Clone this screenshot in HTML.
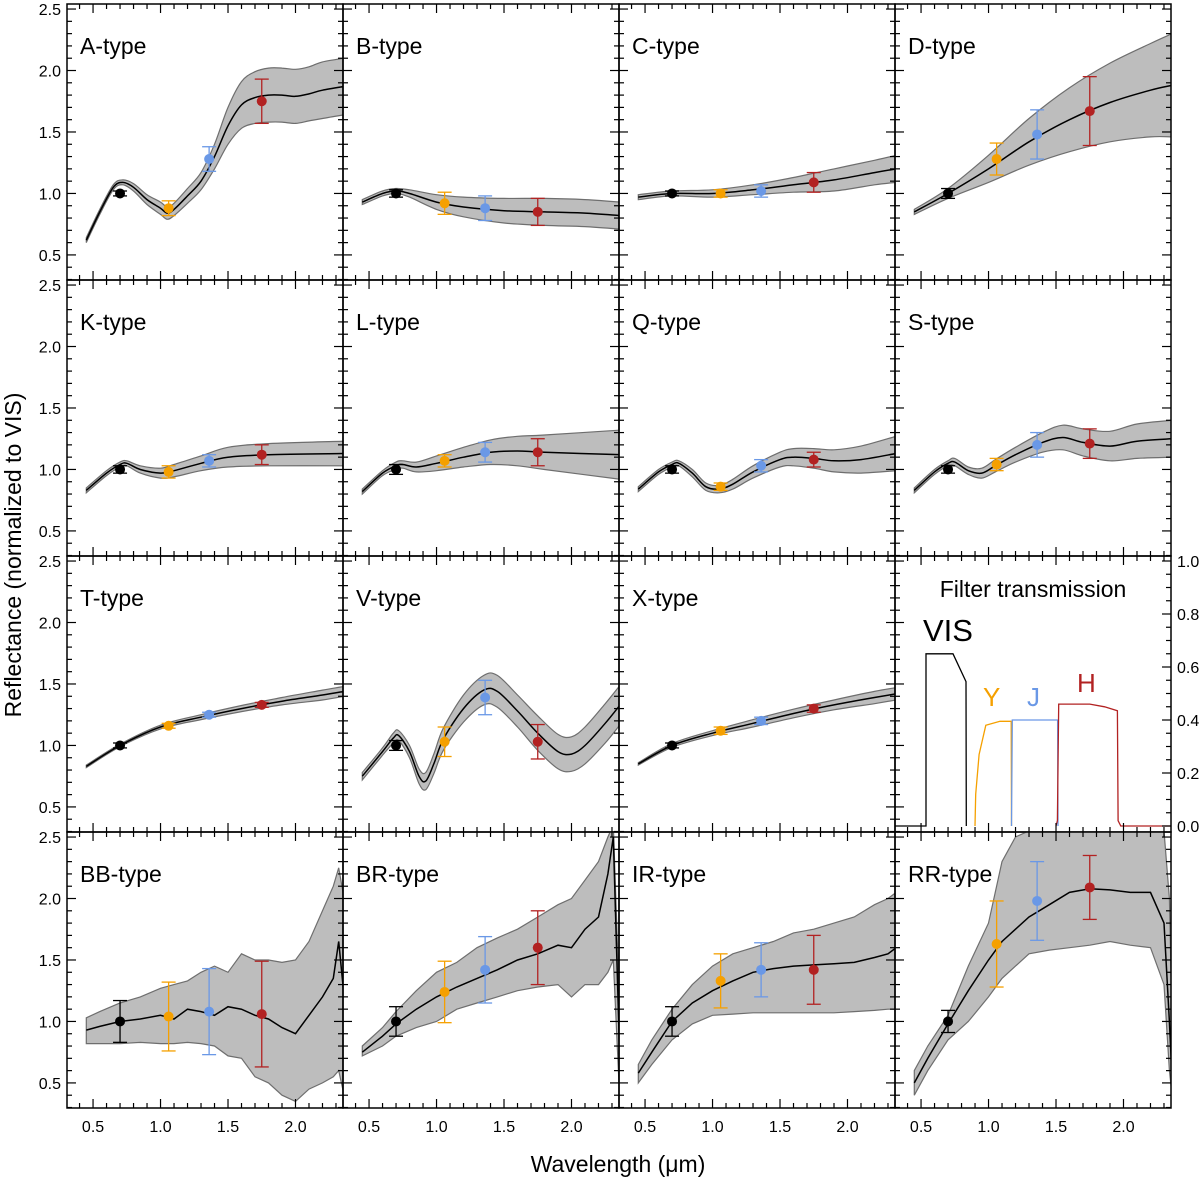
<!DOCTYPE html>
<html><head><meta charset="utf-8"><style>
body{margin:0;background:#fff;overflow:hidden;}
svg{display:block;font-family:"Liberation Sans",Arial,sans-serif;}
</style></head><body>
<svg id="chart" width="1200" height="1182" viewBox="0 0 1200 1182" xmlns="http://www.w3.org/2000/svg">
<text x="618" y="1172" font-size="23" text-anchor="middle">Wavelength (μm)</text>
<text transform="translate(21,555) rotate(-90)" font-size="23" text-anchor="middle">Reflectance (normalized to VIS)</text>
</svg>
<script>
const panelNames=["A-type","B-type","C-type","D-type","K-type","L-type","Q-type","S-type","T-type","V-type","X-type","Filter transmission","BB-type","BR-type","IR-type","RR-type"];
const filterWl=[0.70,1.06,1.36,1.75];
const filterColors=["#000000","#F5A000","#6A98E6","#B22222"];
// spectra: [wavelength, mean, halfwidth]
const specA=[[0.45,0.62,0.02],[0.55,0.85,0.02],[0.65,1.05,0.02],[0.72,1.09,0.02],[0.8,1.05,0.03],[0.9,0.95,0.04],[1.0,0.88,0.05],[1.05,0.84,0.05],[1.1,0.87,0.05],[1.2,0.98,0.06],[1.3,1.1,0.07],[1.4,1.3,0.1],[1.5,1.55,0.15],[1.6,1.72,0.19],[1.7,1.78,0.21],[1.8,1.8,0.22],[1.9,1.8,0.22],[2.0,1.79,0.22],[2.1,1.81,0.22],[2.2,1.84,0.23],[2.36,1.87,0.23]];
const specB=[[0.45,0.93,0.02],[0.6,1.0,0.02],[0.7,1.02,0.02],[0.8,1.0,0.03],[1.0,0.93,0.06],[1.2,0.89,0.08],[1.5,0.86,0.1],[1.8,0.85,0.11],[2.1,0.84,0.11],[2.36,0.82,0.11]];
const specC=[[0.45,0.97,0.02],[0.7,1.0,0.02],[1.0,1.0,0.03],[1.3,1.03,0.04],[1.6,1.07,0.06],[1.9,1.11,0.09],[2.2,1.17,0.1],[2.36,1.2,0.11]];
const specD=[[0.45,0.85,0.02],[0.7,1.0,0.04],[1.0,1.2,0.11],[1.3,1.42,0.19],[1.6,1.6,0.26],[1.9,1.74,0.32],[2.2,1.84,0.38],[2.36,1.88,0.42]];
const specK=[[0.45,0.83,0.02],[0.6,0.97,0.02],[0.7,1.04,0.02],[0.75,1.05,0.02],[0.85,1.0,0.03],[1.0,0.97,0.04],[1.1,0.99,0.05],[1.3,1.05,0.06],[1.5,1.1,0.08],[1.8,1.12,0.09],[2.36,1.13,0.1]];
const specL=[[0.45,0.82,0.02],[0.6,0.97,0.02],[0.7,1.03,0.03],[0.75,1.04,0.03],[0.85,1.02,0.04],[1.0,1.05,0.06],[1.2,1.1,0.08],[1.4,1.14,0.1],[1.6,1.15,0.12],[1.8,1.14,0.14],[2.36,1.12,0.2]];
const specQ=[[0.45,0.84,0.02],[0.6,0.98,0.02],[0.7,1.04,0.02],[0.75,1.05,0.02],[0.85,0.97,0.03],[0.95,0.86,0.03],[1.05,0.84,0.03],[1.15,0.88,0.04],[1.3,0.98,0.05],[1.5,1.08,0.06],[1.6,1.1,0.07],[1.75,1.09,0.08],[1.9,1.07,0.09],[2.1,1.08,0.11],[2.36,1.13,0.14]];
const specS=[[0.45,0.83,0.02],[0.6,0.98,0.02],[0.7,1.05,0.02],[0.75,1.06,0.03],[0.85,0.99,0.03],[0.95,0.97,0.04],[1.05,1.03,0.05],[1.2,1.12,0.06],[1.4,1.22,0.08],[1.55,1.26,0.1],[1.7,1.22,0.11],[1.9,1.19,0.12],[2.1,1.23,0.14],[2.36,1.25,0.15]];
const specT=[[0.45,0.83,0.01],[0.7,1.0,0.01],[1.0,1.15,0.015],[1.3,1.23,0.02],[1.6,1.3,0.025],[1.9,1.36,0.03],[2.2,1.41,0.04],[2.36,1.44,0.04]];
const specV=[[0.45,0.75,0.03],[0.6,0.95,0.03],[0.68,1.06,0.04],[0.72,1.08,0.04],[0.8,0.95,0.05],[0.87,0.75,0.06],[0.92,0.71,0.07],[0.98,0.85,0.08],[1.05,1.05,0.09],[1.2,1.3,0.11],[1.35,1.45,0.12],[1.45,1.44,0.13],[1.6,1.28,0.13],[1.75,1.1,0.14],[1.9,0.95,0.14],[2.0,0.93,0.14],[2.1,1.0,0.15],[2.25,1.18,0.16],[2.36,1.33,0.16]];
const specX=[[0.45,0.85,0.01],[0.7,1.0,0.015],[1.0,1.1,0.02],[1.3,1.18,0.03],[1.6,1.26,0.035],[1.9,1.33,0.04],[2.2,1.39,0.05],[2.36,1.42,0.05]];
// noisy spectra: [wavelength, mean, lower, upper]
const specBB=[[0.45,0.93,0.82,1.03],[0.55,0.96,0.82,1.08],[0.7,1.0,0.82,1.15],[0.85,1.02,0.83,1.2],[1.0,1.05,0.82,1.27],[1.1,1.02,0.82,1.3],[1.2,1.1,0.83,1.33],[1.3,1.08,0.82,1.4],[1.4,1.05,0.8,1.45],[1.5,1.12,0.72,1.4],[1.6,1.1,0.7,1.55],[1.7,1.05,0.55,1.5],[1.8,1.02,0.5,1.5],[1.9,0.95,0.4,1.48],[2.0,0.9,0.35,1.5],[2.1,1.05,0.45,1.65],[2.2,1.2,0.5,1.9],[2.28,1.35,0.55,2.1],[2.32,1.65,0.6,2.25],[2.36,1.2,0.4,2.0]];
const specBR=[[0.45,0.75,0.72,0.8],[0.6,0.88,0.8,0.95],[0.7,0.98,0.88,1.08],[0.85,1.1,0.95,1.25],[1.0,1.2,1.0,1.4],[1.15,1.28,1.1,1.48],[1.3,1.35,1.15,1.6],[1.45,1.42,1.2,1.68],[1.6,1.5,1.25,1.75],[1.75,1.55,1.28,1.85],[1.9,1.62,1.3,1.95],[2.0,1.6,1.2,2.0],[2.1,1.75,1.3,2.15],[2.2,1.85,1.3,2.3],[2.27,2.2,1.4,2.5],[2.31,2.5,1.5,2.6],[2.36,0.6,0.3,1.0]];
const specIR=[[0.45,0.58,0.5,0.65],[0.55,0.75,0.65,0.85],[0.7,1.0,0.85,1.1],[0.85,1.15,0.98,1.3],[1.0,1.25,1.05,1.45],[1.15,1.33,1.06,1.55],[1.3,1.4,1.07,1.6],[1.45,1.43,1.07,1.65],[1.6,1.45,1.07,1.72],[1.75,1.46,1.07,1.75],[1.9,1.47,1.07,1.8],[2.05,1.48,1.08,1.85],[2.2,1.52,1.09,1.95],[2.3,1.55,1.1,2.0],[2.36,1.6,1.1,2.05]];
const specRR=[[0.45,0.5,0.4,0.6],[0.55,0.7,0.6,0.8],[0.7,0.98,0.85,1.05],[0.85,1.25,1.0,1.45],[1.0,1.5,1.2,1.8],[1.1,1.65,1.35,2.3],[1.2,1.75,1.45,2.5],[1.3,1.85,1.55,2.55],[1.45,1.95,1.58,2.55],[1.6,2.05,1.6,2.55],[1.75,2.08,1.62,2.55],[1.9,2.07,1.65,2.55],[2.05,2.05,1.62,2.55],[2.2,2.05,1.6,2.55],[2.3,1.8,1.3,2.55],[2.34,1.0,0.6,2.0],[2.37,0.3,0.3,0.5]];
// points: [value, error] for VIS, Y, J, H
const ptsA=[[1.0,0.02],[0.88,0.06],[1.28,0.1],[1.75,0.18]];
const ptsB=[[1.0,0.03],[0.92,0.09],[0.88,0.1],[0.85,0.11]];
const ptsC=[[1.0,0.02],[1.0,0.03],[1.02,0.05],[1.09,0.08]];
const ptsD=[[1.0,0.04],[1.28,0.13],[1.48,0.2],[1.67,0.28]];
const ptsK=[[1.0,0.03],[0.98,0.05],[1.07,0.05],[1.12,0.08]];
const ptsL=[[1.0,0.04],[1.07,0.05],[1.14,0.08],[1.14,0.11]];
const ptsQ=[[1.0,0.03],[0.86,0.03],[1.03,0.05],[1.08,0.06]];
const ptsS=[[1.0,0.03],[1.04,0.05],[1.2,0.1],[1.21,0.12]];
const ptsT=[[1.0,0.02],[1.16,0.02],[1.25,0.02],[1.33,0.02]];
const ptsV=[[1.0,0.04],[1.03,0.12],[1.39,0.14],[1.03,0.14]];
const ptsX=[[1.0,0.02],[1.12,0.03],[1.2,0.03],[1.3,0.03]];
const ptsBB=[[1.0,0.17],[1.04,0.28],[1.08,0.35],[1.06,0.43]];
const ptsBR=[[1.0,0.12],[1.24,0.25],[1.42,0.27],[1.6,0.3]];
const ptsIR=[[1.0,0.12],[1.33,0.22],[1.42,0.22],[1.42,0.28]];
const ptsRR=[[1.0,0.09],[1.63,0.35],[1.98,0.32],[2.09,0.26]];
// filter transmission curves [wavelength, transmission]
const transVIS=[[0.3,0],[0.537,0],[0.537,0.65],[0.737,0.65],[0.833,0.545],[0.835,0]];
const transY=[[0.9,0],[0.905,0.12],[0.93,0.27],[0.98,0.38],[1.085,0.395],[1.168,0.395],[1.17,0]];
const transJ=[[1.17,0],[1.176,0.40],[1.512,0.40],[1.515,0]];
const transH=[[1.5,0],[1.51,0.02],[1.52,0.46],[1.75,0.46],[1.86,0.45],[1.955,0.435],[1.96,0.02],[1.98,0],[2.4,0]];
const transNames=["VIS","Y","J","H"];
const yTickLabels=["0.5","1.0","1.5","2.0","2.5"];
const xTickLabels=["0.5","1.0","1.5","2.0"];
const rTickLabels=["0.0","0.2","0.4","0.6","0.8","1.0"];

const smoothSets=[[specA,ptsA],[specB,ptsB],[specC,ptsC],[specD,ptsD],[specK,ptsK],[specL,ptsL],[specQ,ptsQ],[specS,ptsS],[specT,ptsT],[specV,ptsV],[specX,ptsX],null,[specBB,ptsBB],[specBR,ptsBR],[specIR,ptsIR],[specRR,ptsRR]];

const NS="http://www.w3.org/2000/svg";
const svg=document.getElementById('chart');
const X0=67,Y0=4,PW=276,PH=276;
const XMIN=0.307,XMAX=2.352,YMIN=0.296,YMAX=2.541;
function mk(tag,attrs,parent){const e=document.createElementNS(NS,tag);for(const k in attrs)e.setAttribute(k,attrs[k]);(parent||svg).appendChild(e);return e;}
function catmull(pts){let d="M"+pts[0][0].toFixed(1)+","+pts[0][1].toFixed(1);for(let i=0;i<pts.length-1;i++){const p0=pts[Math.max(0,i-1)],p1=pts[i],p2=pts[i+1],p3=pts[Math.min(pts.length-1,i+2)];const c1=[p1[0]+(p2[0]-p0[0])/6,p1[1]+(p2[1]-p0[1])/6],c2=[p2[0]-(p3[0]-p1[0])/6,p2[1]-(p3[1]-p1[1])/6];d+="C"+c1.map(v=>v.toFixed(1))+" "+c2.map(v=>v.toFixed(1))+" "+p2[0].toFixed(1)+","+p2[1].toFixed(1);}return d;}
function lin(pts,start){return pts.map((p,i)=>((i==0&&start)?"M":"L")+p[0].toFixed(1)+","+p[1].toFixed(1)).join("");}

for(let p=0;p<16;p++){
  const col=p%4,row=Math.floor(p/4);
  const px=X0+col*PW,py=Y0+row*PH;
  const sx=v=>px+(v-XMIN)/(XMAX-XMIN)*PW;
  const sy=v=>py+PH-(v-YMIN)/(YMAX-YMIN)*PH;
  const g=mk('g',{});
  
  
  const cp=mk('clipPath',{id:'cp'+p},g);
  mk('rect',{x:px,y:py,width:PW,height:PH},cp);
  const inner=mk('g',{'clip-path':'url(#cp'+p+')'},g);
  const set=smoothSets[p];
  if(set){
    const [spec,pts]=set;
    const noisy=row==3;
    let up,lo,mid;
    if(noisy){up=spec.map(s=>[sx(s[0]),sy(s[3])]);lo=spec.map(s=>[sx(s[0]),sy(s[2])]);}
    else{up=spec.map(s=>[sx(s[0]),sy(s[1]+s[2])]);lo=spec.map(s=>[sx(s[0]),sy(s[1]-s[2])]);}
    mid=spec.map(s=>[sx(s[0]),sy(s[1])]);
    let d;
    if(noisy){d=lin(up,true)+lin(lo.slice().reverse(),false)+"Z";}
    else{d=catmull(up)+"L"+catmull(lo.slice().reverse()).slice(1)+"Z";}
    const band=mk('path',{d:d,fill:'#bdbdbd',stroke:'#6e6e6e','stroke-width':1.2},inner);
    
    
    const line=mk('path',{d:noisy?lin(mid,true):catmull(mid),fill:'none',stroke:'#000','stroke-width':1.5},inner);
    
    
    for(let i=0;i<4;i++){
      const x=sx(filterWl[i]),v=pts[i][0],e=pts[i][1],c=filterColors[i];
      const eb=mk('g',{stroke:c,'stroke-width':1.3},inner);
      
      
      mk('line',{x1:x,x2:x,y1:sy(v-e),y2:sy(v+e)},eb);
      mk('line',{x1:x-7,x2:x+7,y1:sy(v-e),y2:sy(v-e)},eb);
      mk('line',{x1:x-7,x2:x+7,y1:sy(v+e),y2:sy(v+e)},eb);
      const dot=mk('circle',{cx:x,cy:sy(v),r:5,fill:c},inner);
      
      
    }
    const t=mk('text',{x:px+13,y:py+50,'font-size':23},g);t.textContent=panelNames[p];
    
    
  } else {
    const ty=v=>py+270-v*265;
    const curves=[transVIS,transY,transJ,transH];
    for(let i=0;i<4;i++){
      const c=i==0?'#000':filterColors[i];
      const pl=mk('path',{d:lin(curves[i].map(s=>[sx(s[0]),ty(s[1])]),true),fill:'none',stroke:c,'stroke-width':1.3},inner);
      
      
    }
    const labs=[[transNames[0],px+28,py+85,31,'#000'],[transNames[1],px+88,py+150,26,filterColors[1]],[transNames[2],px+132,py+150,26,filterColors[2]],[transNames[3],px+182,py+136,26,filterColors[3]]];
    labs.forEach(l=>{const t=mk('text',{x:l[1],y:l[2],'font-size':l[3],fill:l[4]},g);t.textContent=l[0];
      
      });
    const t=mk('text',{x:px+138,y:py+41,'font-size':23,'text-anchor':'middle'},g);t.textContent=panelNames[p];
    
    
    for(let k=0;k<=20;k++){const v=k*0.05,y=ty(v),L=k%4==0?9:5;
      mk('line',{x1:px+PW,x2:px+PW-L,y1:y,y2:y,stroke:'#000','stroke-width':1.2},g);}
    rTickLabels.forEach((s,k)=>{const t=mk('text',{x:px+PW+6,y:ty(k*0.2)+6,'font-size':16},g);t.textContent=s;
      
      });
  }
  const fr=mk('rect',{x:px,y:py,width:PW,height:PH,fill:'none',stroke:'#000','stroke-width':1.5},g);
  
  
  for(let k=4;k<=23;k++){const v=k/10,x=sx(v),L=(k%5==0)?9:5;
    mk('line',{x1:x,x2:x,y1:py+PH,y2:py+PH-L,stroke:'#000','stroke-width':1.2},g);
    mk('line',{x1:x,x2:x,y1:py,y2:py+L,stroke:'#000','stroke-width':1.2},g);}
  for(let k=3;k<=25;k++){const v=k/10,y=sy(v),L=(k%5==0)?9:5;
    mk('line',{x1:px,x2:px+L,y1:y,y2:y,stroke:'#000','stroke-width':1.2},g);
    if(set) mk('line',{x1:px+PW,x2:px+PW-L,y1:y,y2:y,stroke:'#000','stroke-width':1.2},g);}
  if(col==0){yTickLabels.forEach((s,k)=>{const t=mk('text',{x:px-6,y:sy(0.5+k*0.5)+6,'font-size':16,'text-anchor':'end'},g);t.textContent=s;
    
    });}
  if(row==3){xTickLabels.forEach((s,k)=>{const t=mk('text',{x:sx(0.5+k*0.5),y:py+PH+24,'font-size':16,'text-anchor':'middle'},g);t.textContent=s;
    
    });}
}
</script>
</body></html>
